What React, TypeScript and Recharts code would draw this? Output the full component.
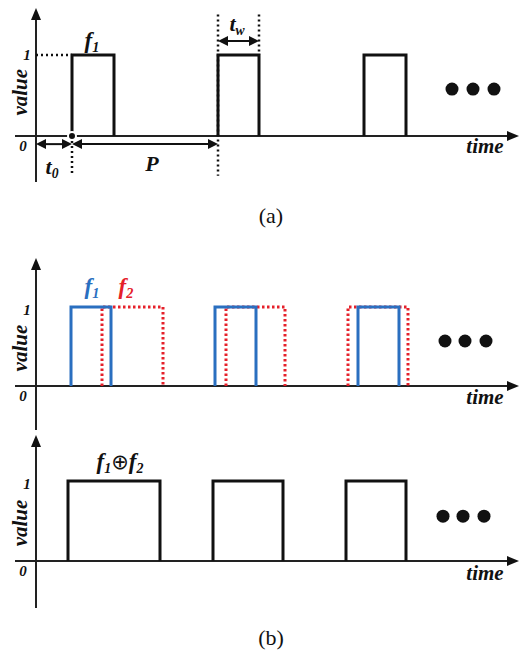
import React from 'react';
import { ComposedChart, Line, XAxis, YAxis, ReferenceLine, ReferenceDot } from 'recharts';

// ---------- data (time units, value 0/1) ----------
const pulsesA_f1: [number, number][] = [[36, 78], [182, 223], [328, 370]];
const pulsesB_f1: [number, number][] = [[35, 75], [179, 220], [322, 363]];
const pulsesB_f2: [number, number][] = [[66, 127], [190, 249], [312, 372]];
const pulsesB_xor: [number, number][] = [[32, 124], [177, 247], [310, 370]];
const yTickValues = [0, 1];
const yTickLabels = ['0', '1'];
const ellipsisA = [416, 437, 458];
const ellipsisB1 = [409, 429, 450];
const ellipsisB2 = [407, 427, 448];
const ellipsisLevel = [0.58, 0.57, 0.56];
const t0 = 0;
const tStart = 36;
const period = 146;
const tw = 41;

const FONT = "Liberation Serif, DejaVu Serif, serif";
const BLUE = '#2a6fc0';
const RED = '#e5202a';
const INK = '#111';

const toSeries = (pulses: [number, number][]) => {
  const out: { t: number; v: number | null }[] = [];
  pulses.forEach(([s, e]) => {
    out.push({ t: s, v: 0 }, { t: s, v: 1 }, { t: e, v: 1 }, { t: e, v: 0 }, { t: e, v: null });
  });
  return out;
};

// ---------- shapes ----------
const arrowHead = (x: number, y: number, ux: number, uy: number, L = 11, H = 5) => {
  const bx = x - ux * L;
  const by = y - uy * L;
  return `${x},${y} ${bx - uy * H},${by + ux * H} ${bx + uy * H},${by - ux * H}`;
};

const axisArrow = (p: any) => {
  const { x1, y1, x2, y2 } = p;
  const dx = x2 - x1, dy = y2 - y1;
  const len = Math.hypot(dx, dy) || 1;
  const ux = dx / len, uy = dy / len;
  return (
    <g>
      <line x1={x1} y1={y1} x2={x2 - ux * 9} y2={y2 - uy * 9} stroke="#222" strokeWidth={2} />
      <polygon points={arrowHead(x2, y2, ux, uy, 12, 5)} fill={INK} />
    </g>
  );
};

const doubleArrow = (p: any) => {
  const { x1, y1, x2, y2 } = p;
  const dx = x2 - x1, dy = y2 - y1;
  const len = Math.hypot(dx, dy) || 1;
  const ux = dx / len, uy = dy / len;
  return (
    <g>
      <line x1={x1 + ux * 8} y1={y1 + uy * 8} x2={x2 - ux * 8} y2={y2 - uy * 8} stroke={INK} strokeWidth={2} />
      <polygon points={arrowHead(x2, y2, ux, uy, 10, 5)} fill={INK} />
      <polygon points={arrowHead(x1, y1, -ux, -uy, 10, 5)} fill={INK} />
    </g>
  );
};

const txt = (render: (x: number, y: number) => React.ReactElement) => (p: any) => render(p.cx, p.cy);

const T = (props: any) => (
  <text fontFamily={FONT} fontWeight="bold" fontStyle="italic" textAnchor="middle" fill={INK} {...props} />
);

const subLabel = (base: string, sub: string, color: string, size = 23) =>
  txt((x, y) => (
    <T x={x} y={y} fill={color} fontSize={size}>
      {base}
      <tspan dy={4} fontSize={size * 0.62}>{sub}</tspan>
    </T>
  ));

// ---------- panel layout ----------
type Panel = { top: number; height: number; domain: [number, number]; axisBottom: number; axisTip: number };
const panelA: Panel = { top: 0, height: 230, domain: [-1.16, 1.679], axisBottom: -0.568, axisTip: 1.58 };
const panelB1: Panel = { top: 230, height: 200, domain: [-0.557, 1.975], axisBottom: -0.557, axisTip: 1.62 };
const panelB2: Panel = { top: 430, height: 226, domain: [-1.1875, 1.6375], axisBottom: -0.5875, axisTip: 1.575 };
const T_DOMAIN: [number, number] = [-36, 484];

const commonAxes = (panel: Panel, key: string, valueV: number, timeV: number, oneDy: number) => [
  <XAxis key={key + 'x'} type="number" dataKey="t" domain={T_DOMAIN} allowDataOverflow hide />,
  <YAxis key={key + 'y'} type="number" dataKey="v" domain={panel.domain} allowDataOverflow hide />,
  <ReferenceLine key={key + 'ax'} segment={[{ x: -21, y: 0 }, { x: 483, y: 0 }]} ifOverflow="visible" shape={axisArrow} />,
  <ReferenceLine key={key + 'ay'} segment={[{ x: 0, y: panel.axisBottom }, { x: 0, y: panel.axisTip }]} ifOverflow="visible" shape={axisArrow} />,
  ...yTickValues.map((tv, i) => (
    <ReferenceDot
      key={key + 'tick' + i}
      x={0}
      y={tv}
      r={0}
      ifOverflow="visible"
      shape={txt((x, y) => (
        <T x={tv === 0 ? x - 13 : x - 9} y={tv === 0 ? y + 15 : y + oneDy} fontSize={15}>
          {yTickLabels[i]}
        </T>
      ))}
    />
  )),
  <ReferenceDot
    key={key + 'value'}
    x={-16}
    y={valueV}
    r={0}
    ifOverflow="visible"
    shape={txt((x, y) => (
      <T x={x} y={y} transform={`rotate(-90 ${x} ${y})`} dominantBaseline="central" fontSize={21}>
        value
      </T>
    ))}
  />,
  <ReferenceDot
    key={key + 'time'}
    x={449}
    y={timeV}
    r={0}
    ifOverflow="visible"
    shape={txt((x, y) => (
      <T x={x} y={y} fontSize={21}>
        time
      </T>
    ))}
  />,
];

const ellipsis = (key: string, ts: number[], level: number) =>
  ts.map((t, i) => <ReferenceDot key={key + 'dot' + i} x={t} y={level} r={6.5} fill={INK} stroke="none" ifOverflow="visible" />);

const dotted = (key: string, a: { x: number; y: number }, b: { x: number; y: number }) => (
  <ReferenceLine key={key} segment={[a, b]} ifOverflow="visible" stroke={INK} strokeWidth={2.5} strokeDasharray="2 3" />
);

const captionStyle: React.CSSProperties = {
  position: 'absolute',
  fontFamily: FONT,
  fontSize: 22,
  color: '#111',
  width: 60,
  textAlign: 'center',
  lineHeight: '24px',
};

export default function App() {
  const tEnd1 = tStart + period;
  return (
    <div style={{ position: 'absolute', left: 0, top: 0, width: 520, height: 656, background: '#fff', overflow: 'hidden' }}>
      {/* (a) */}
      <div style={{ position: 'absolute', left: 0, top: panelA.top }}>
        <ComposedChart width={520} height={panelA.height} margin={{ top: 0, right: 0, bottom: 0, left: 0 }}>
          {commonAxes(panelA, 'a', 0.54, -0.21, 5)}
          <Line data={toSeries(pulsesA_f1)} dataKey="v" type="linear" stroke={INK} strokeWidth={3} dot={false} isAnimationActive={false} connectNulls={false} />
          {dotted('a-h1', { x: 0, y: 1 }, { x: tStart, y: 1 })}
          {dotted('a-v1', { x: tStart, y: 0 }, { x: tStart, y: -0.49 })}
          {dotted('a-v2', { x: tEnd1, y: 1.5 }, { x: tEnd1, y: -0.49 })}
          {dotted('a-v3', { x: tEnd1 + tw, y: 1.5 }, { x: tEnd1 + tw, y: 1 })}
          <ReferenceLine segment={[{ x: t0, y: -0.1 }, { x: tStart, y: -0.1 }]} ifOverflow="visible" shape={doubleArrow} />
          <ReferenceLine segment={[{ x: tStart, y: -0.1 }, { x: tEnd1, y: -0.1 }]} ifOverflow="visible" shape={doubleArrow} />
          <ReferenceLine segment={[{ x: tEnd1, y: 1.173 }, { x: tEnd1 + tw, y: 1.173 }]} ifOverflow="visible" shape={doubleArrow} />
          <ReferenceDot x={56} y={1.09} r={0} ifOverflow="visible" shape={subLabel('f', '1', INK)} />
          <ReferenceDot x={201} y={1.3} r={0} ifOverflow="visible" shape={subLabel('t', 'w', INK, 22)} />
          <ReferenceDot x={16} y={-0.47} r={0} ifOverflow="visible" shape={subLabel('t', '0', INK, 22)} />
          <ReferenceDot
            x={116}
            y={-0.43}
            r={0}
            ifOverflow="visible"
            shape={txt((x, y) => (
              <T x={x} y={y} fontSize={22}>
                P
              </T>
            ))}
          />
          {ellipsis('a', ellipsisA, ellipsisLevel[0])}
        </ComposedChart>
      </div>
      <div style={{ ...captionStyle, left: 241, top: 204 }}>(a)</div>

      {/* (b) top */}
      <div style={{ position: 'absolute', left: 0, top: panelB1.top }}>
        <ComposedChart width={520} height={panelB1.height} margin={{ top: 0, right: 0, bottom: 0, left: 0 }}>
          {commonAxes(panelB1, 'b1', 0.48, -0.228, 8)}
          <Line data={toSeries(pulsesB_f2)} dataKey="v" type="linear" stroke={RED} strokeWidth={3} strokeDasharray="2.5 2.5" dot={false} isAnimationActive={false} connectNulls={false} />
          <Line data={toSeries(pulsesB_f1)} dataKey="v" type="linear" stroke={BLUE} strokeWidth={3} dot={false} isAnimationActive={false} connectNulls={false} />
          <ReferenceDot x={56} y={1.165} r={0} ifOverflow="visible" shape={subLabel('f', '1', BLUE)} />
          <ReferenceDot x={90} y={1.165} r={0} ifOverflow="visible" shape={subLabel('f', '2', RED)} />
          {ellipsis('b1', ellipsisB1, ellipsisLevel[1])}
        </ComposedChart>
      </div>

      {/* (b) bottom */}
      <div style={{ position: 'absolute', left: 0, top: panelB2.top }}>
        <ComposedChart width={520} height={panelB2.height} margin={{ top: 0, right: 0, bottom: 0, left: 0 }}>
          {commonAxes(panelB2, 'b2', 0.475, -0.24, 8)}
          <Line data={toSeries(pulsesB_xor)} dataKey="v" type="linear" stroke={INK} strokeWidth={3} dot={false} isAnimationActive={false} connectNulls={false} />
          <ReferenceDot
            x={84}
            y={1.15}
            r={0}
            ifOverflow="visible"
            shape={txt((x, y) => (
              <T x={x} y={y} fontSize={23}>
                f<tspan dy={4} fontSize={14}>1</tspan>
                <tspan dy={-4} fontStyle="normal" fontWeight="normal" fontFamily="DejaVu Sans, sans-serif" fontSize={21}>⊕</tspan>
                <tspan>f</tspan>
                <tspan dy={4} fontSize={14}>2</tspan>
              </T>
            ))}
          />
          {ellipsis('b2', ellipsisB2, ellipsisLevel[2])}
        </ComposedChart>
      </div>
      <div style={{ ...captionStyle, left: 241, top: 626 }}>(b)</div>
    </div>
  );
}
